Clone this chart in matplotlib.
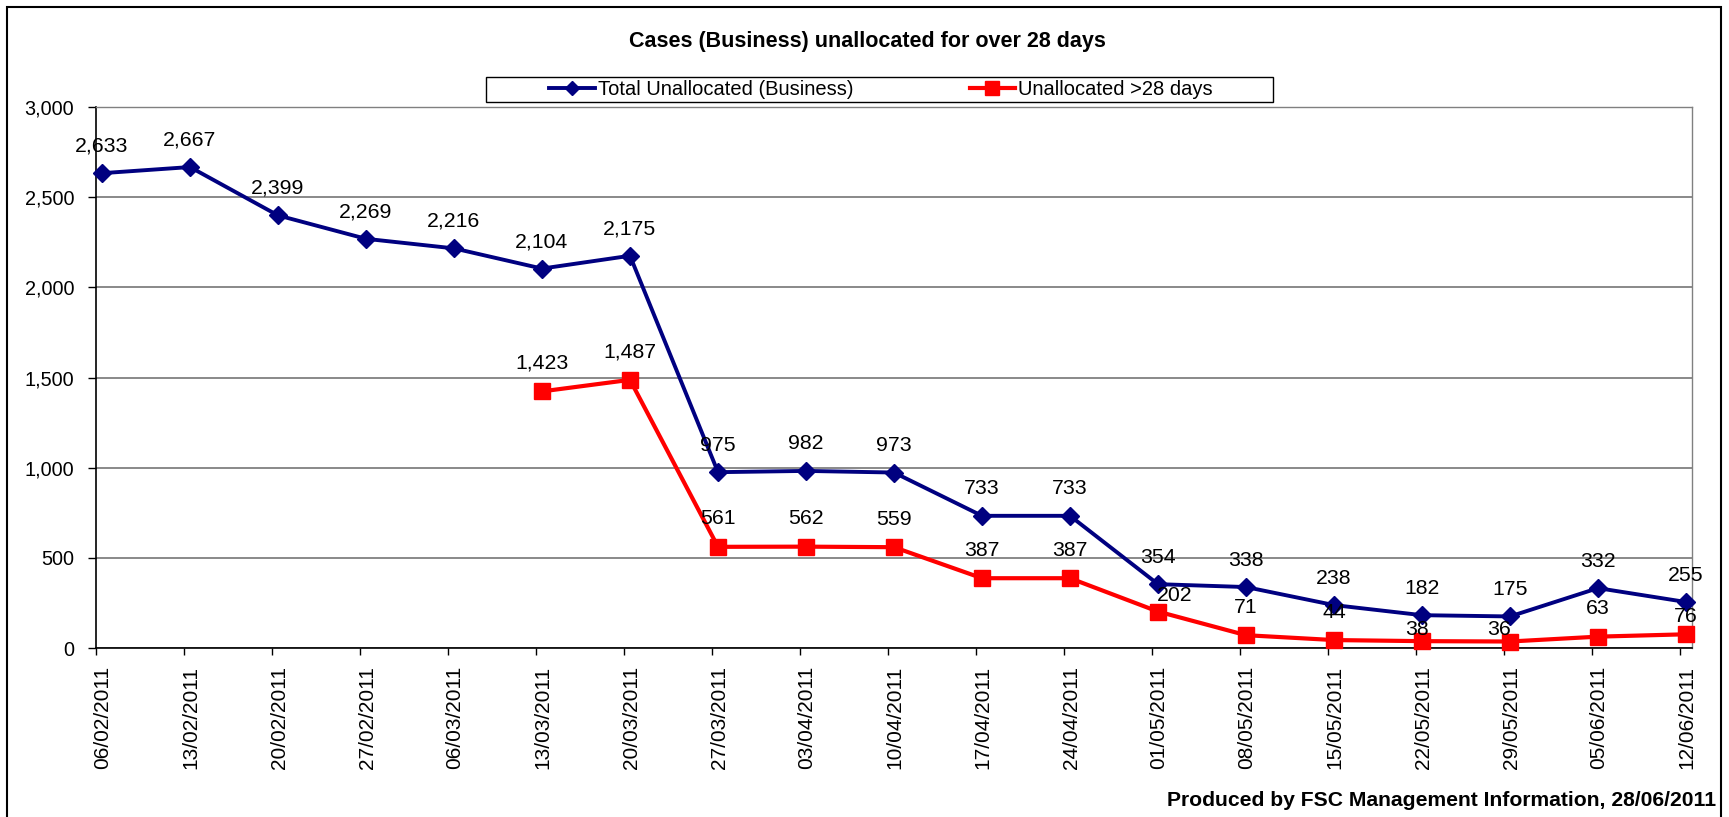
import matplotlib
matplotlib.use("Agg")
import matplotlib.pyplot as plt
import matplotlib.transforms as mtrans
import numpy as np
from matplotlib.patches import Rectangle
from matplotlib.ticker import FuncFormatter

plt.rcParams['font.family'] = ['Liberation Sans', 'DejaVu Sans']

# ---- data ----
title = "Cases (Business) unallocated for over 28 days"
footer = "Produced by FSC Management Information, 28/06/2011"
dates = ["06/02/2011", "13/02/2011", "20/02/2011", "27/02/2011", "06/03/2011",
         "13/03/2011", "20/03/2011", "27/03/2011", "03/04/2011", "10/04/2011",
         "17/04/2011", "24/04/2011", "01/05/2011", "08/05/2011", "15/05/2011",
         "22/05/2011", "29/05/2011", "05/06/2011", "12/06/2011"]
total_unallocated = [2633, 2667, 2399, 2269, 2216, 2104, 2175, 975, 982, 973,
                     733, 733, 354, 338, 238, 182, 175, 332, 255]
unallocated_28 = [np.nan, np.nan, np.nan, np.nan, np.nan, 1423, 1487, 561, 562, 559,
                  387, 387, 202, 71, 44, 38, 36, 63, 76]
series_names = ["Total Unallocated (Business)", "Unallocated >28 days"]
yticks = [0, 500, 1000, 1500, 2000, 2500, 3000]

# ---- layout (pixels) ----
W, H = 1729, 817
def fx(px): return px / W
def fy(py): return 1 - py / H
PT = 72 / 100.0  # px -> pt

fig = plt.figure(figsize=(W / 100, H / 100), dpi=100)
ax = fig.add_axes([fx(96), fy(648), fx(1692) - fx(96), fy(107) - fy(648)])

navy = '#000080'
red = '#FF0000'
x = np.arange(len(dates))
shift = 6 / 88.0          # markers sit slightly right of the tick marks, as in the original
xp = x + shift
ax.plot(xp, total_unallocated, color=navy, lw=2.8, marker='D', ms=9.3,
        zorder=4, label=series_names[0], clip_on=False)
ax.plot(xp, unallocated_28, color=red, lw=3.0, marker='s', ms=11.8,
        zorder=3, label=series_names[1], clip_on=False)

ax.set_xlim(0, 18 + 12 / 88.0)
ax.set_ylim(0, 3000)
ax.set_yticks(yticks)
ax.yaxis.set_major_formatter(FuncFormatter(lambda v, p: f"{int(v):,}"))
ax.set_xticks(x)
ax.set_xticklabels(dates, rotation=90, fontsize=15)
ax.tick_params(axis='y', direction='out', length=8 * PT, width=1, labelsize=14.3, pad=14 * PT)
ax.tick_params(axis='x', direction='out', length=7 * PT, width=1, pad=11 * PT)
off = mtrans.ScaledTranslation(7 / 100.0, 0, fig.dpi_scale_trans)
for lab in ax.get_xticklabels():
    lab.set_transform(lab.get_transform() + off)
ax.yaxis.grid(True, color='#808080', lw=1.3)
ax.set_axisbelow(True)
for s in ['top', 'right']:
    ax.spines[s].set_color('#808080')
    ax.spines[s].set_linewidth(1.0)
for s in ['left', 'bottom']:
    ax.spines[s].set_color('black')
    ax.spines[s].set_linewidth(1.2)

# data labels (offsets in px)
default_off = 27
for i, v in enumerate(total_unallocated):
    ax.annotate(f"{v:,}", (xp[i], v), xytext=(0, default_off * PT), textcoords='offset points',
                ha='center', va='center', fontsize=15.3, zorder=5)
special = {12: (17, 16), 15: (-5, 12), 16: (-11, 12), 18: (0, 18)}
for i, v in enumerate(unallocated_28):
    if np.isnan(v):
        continue
    dx, dy = special.get(i, (0, default_off + 1))
    ax.annotate(f"{int(v):,}", (xp[i], v), xytext=(dx * PT, dy * PT), textcoords='offset points',
                ha='center', va='center', fontsize=15.3, zorder=5)

# legend
h, l = ax.get_legend_handles_labels()
fig.legend(h, l, loc='center', bbox_to_anchor=(fx(881), fy(89.5)), ncol=2, frameon=False,
           fontsize=14.5, handlelength=2.25, handletextpad=0.15, columnspacing=5.8,
           borderpad=0, borderaxespad=0, markerscale=0.8)
fig.add_artist(Rectangle((fx(486), fy(102)), fx(1273) - fx(486), fy(77) - fy(102),
                         transform=fig.transFigure, fill=False, ec='black', lw=1))

fig.text(fx(867), fy(41), title, ha='center', va='center', fontsize=15.5, fontweight='bold')
fig.text(fx(1716), fy(801), footer, ha='right', va='center', fontsize=15.2, fontweight='bold')

# outer chart border
fig.add_artist(Rectangle((fx(7), -0.1), fx(1721) - fx(7), fy(7) + 0.1,
                         transform=fig.transFigure, fill=False, ec='black', lw=1.5, clip_on=False))

fig.savefig('out.png', dpi=100)
